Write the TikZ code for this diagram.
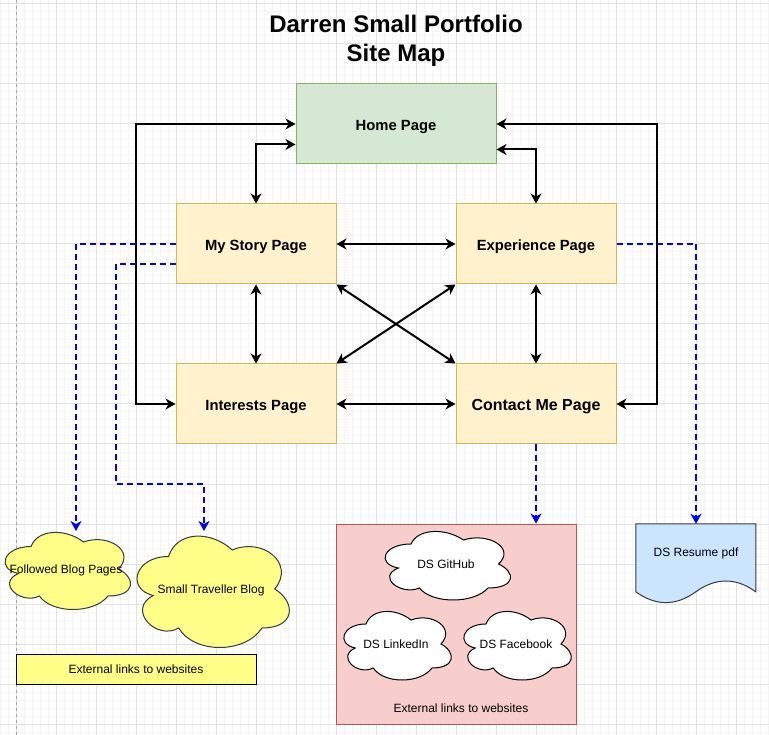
\documentclass[tikz,border=0pt]{standalone}
\usepackage{fontspec}
\setmainfont{Liberation Sans}
\usetikzlibrary{arrows.meta,calc}
\definecolor{gridminor}{HTML}{F5F5F5}
\definecolor{gridmajor}{HTML}{E2E2E2}
\definecolor{homefill}{HTML}{D5E8D4}
\definecolor{homeline}{HTML}{82B366}
\definecolor{pagefill}{HTML}{FFF2CC}
\definecolor{pageline}{HTML}{D6B656}
\definecolor{cloudyellow}{HTML}{FFFF88}
\definecolor{darkline}{HTML}{36393D}
\definecolor{redfill}{HTML}{F8CECC}
\definecolor{redline}{HTML}{B85450}
\definecolor{docfill}{HTML}{CCE5FF}
\definecolor{linkblue}{HTML}{0000FF}
\tikzset{
  pagebox/.style={draw=pageline, fill=pagefill, line width=1pt, minimum width=160pt, minimum height=80pt, inner sep=0pt, text height=13pt, text depth=0pt, font=\bfseries\fontsize{14.8}{17}\selectfont},
  homebox/.style={pagebox, draw=homeline, fill=homefill, minimum width=200pt},
  conn/.style={line width=2pt, draw=black, {Stealth[length=10pt,width=11pt,inset=3pt]}-{Stealth[length=10pt,width=11pt,inset=3pt]}},
  extlink/.style={line width=2pt, draw=linkblue, dash pattern=on 6pt off 4pt, -{Stealth[length=10pt,width=11pt,inset=3pt]}},
  smalltext/.style={font=\fontsize{12}{14}\selectfont, inner sep=0pt, text height=8.6pt, text depth=0pt},
  titletext/.style={font=\bfseries\fontsize{24}{28}\selectfont, inner sep=0pt, text height=17.2pt, text depth=0pt},
  ycloud/.style={fill=cloudyellow, draw=darkline, line width=1pt},
  wcloud/.style={fill=white, draw=black, line width=1pt},
}
\newcommand\drawcloud[5]{%
  \begin{scope}[shift={(#1,#2)}, xscale=#3, yscale=#4]
    \path[#5] (0.25,0.25) .. controls (0.05,0.25) and (0,0.5) .. (0.16,0.55)
      .. controls (0,0.66) and (0.18,0.9) .. (0.31,0.8)
      .. controls (0.4,1) and (0.7,1) .. (0.8,0.8)
      .. controls (1,0.8) and (1,0.6) .. (0.875,0.5)
      .. controls (1,0.3) and (0.8,0.1) .. (0.625,0.2)
      .. controls (0.5,0.05) and (0.3,0.05) .. (0.25,0.25) -- cycle;
  \end{scope}}
\begin{document}
\begin{tikzpicture}[x=1pt,y=-1pt]
\useasboundingbox (0,0) rectangle (769,735);
\fill[white] (0,0) rectangle (769,735);
% grid
\foreach \x in {0,8,...,768} \draw[gridminor, line width=1pt] (\x,0) -- (\x,735);
\foreach \y in {4,12,...,732} \draw[gridminor, line width=1pt] (0,\y) -- (769,\y);
\foreach \x in {16,56,...,736} \draw[gridmajor, line width=1pt] (\x,0) -- (\x,735);
\foreach \y in {4,44,...,724} \draw[gridmajor, line width=1pt] (0,\y) -- (769,\y);
\draw[gray!70, line width=1pt, dash pattern=on 3pt off 3pt] (16,0) -- (16,735);

% title
\node[titletext] (title) at (396,24) {Darren Small Portfolio};
\node[titletext] (subtitle) at (396,53) {Site Map};

% pages
\node[homebox] (home) at (396,124) {Home Page};
\node[pagebox] (story) at (256,244) {My Story Page};
\node[pagebox] (exp) at (536,244) {Experience Page};
\node[pagebox] (inter) at (256,404) {Interests Page};
\node[pagebox, font=\bfseries\fontsize{16}{18}\selectfont] (contact) at (536,404) {Contact Me Page};

% connectors
\draw[conn] (home.west) -| ($(inter.west)+(-40,0)$) -- (inter.west);
\draw[conn] ($(home.south west)+(0,-20)$) -| (story.north);
\draw[conn] (home.east) -| ($(contact.east)+(40,0)$) -- (contact.east);
\draw[conn] ($(home.south east)+(0,-15)$) -| (exp.north);
\draw[conn] (story.east) -- (exp.west);
\draw[conn] (inter.east) -- (contact.west);
\draw[conn] (story.south) -- (inter.north);
\draw[conn] (exp.south) -- (contact.north);
\draw[conn] (story.south east) -- (contact.north west);
\draw[conn] (exp.south west) -- (inter.north east);

% left external clouds
\drawcloud{-4}{524}{140}{90}{ycloud}
\node[smalltext] (followed) at (66,569) {Followed Blog Pages};
\drawcloud{126}{524}{170}{130}{ycloud}
\node[smalltext] (traveller) at (211,589) {Small Traveller Blog};
\node[draw=black, fill=cloudyellow, line width=1pt, minimum width=240pt, minimum height=30pt, inner sep=0pt, text height=8.6pt, text depth=0pt, font=\fontsize{12}{14}\selectfont] (legend) at (136,669) {External links to websites};
\coordinate (followedtop) at (76,531);
\coordinate (travellertop) at (204,531);
\coordinate (travellerbend) at (116,484);

% red area
\node[draw=redline, fill=redfill, line width=1pt, minimum width=240pt, minimum height=200pt, inner sep=0pt] (area) at (456,624) {};
\node[smalltext] (arealabel) at (461,708) {External links to websites};
\drawcloud{376}{524}{140}{80}{wcloud}
\node[smalltext] (github) at (446,564) {DS GitHub};
\drawcloud{336}{604}{120}{80}{wcloud}
\node[smalltext] (linkedin) at (396,644) {DS LinkedIn};
\drawcloud{456}{604}{120}{80}{wcloud}
\node[smalltext] (facebook) at (516,644) {DS Facebook};

% resume document
\node[minimum width=120pt, minimum height=80pt, inner sep=0pt] (resume) at (696,564) {};
\begin{scope}[shift={(resume.north west)}]
\path[fill=docfill, draw=darkline, line width=1pt] (0,0) -- (120,0) -- (120,68)
  .. controls (100,53.6) and (80,53.6) .. (60,68)
  .. controls (40,82.4) and (20,82.4) .. (0,68) -- cycle;
\end{scope}
\node[smalltext] (resumelabel) at (696,552) {DS Resume pdf};

% dashed external links
\draw[extlink] (story.west) -| (followedtop);
\draw[extlink] ($(story.west)+(0,20)$) -| (travellerbend) -| (travellertop);
\draw[extlink] (contact.south) -- (contact.south |- area.north);
\draw[extlink] (exp.east) -| (resume.north);
\end{tikzpicture}
\end{document}
